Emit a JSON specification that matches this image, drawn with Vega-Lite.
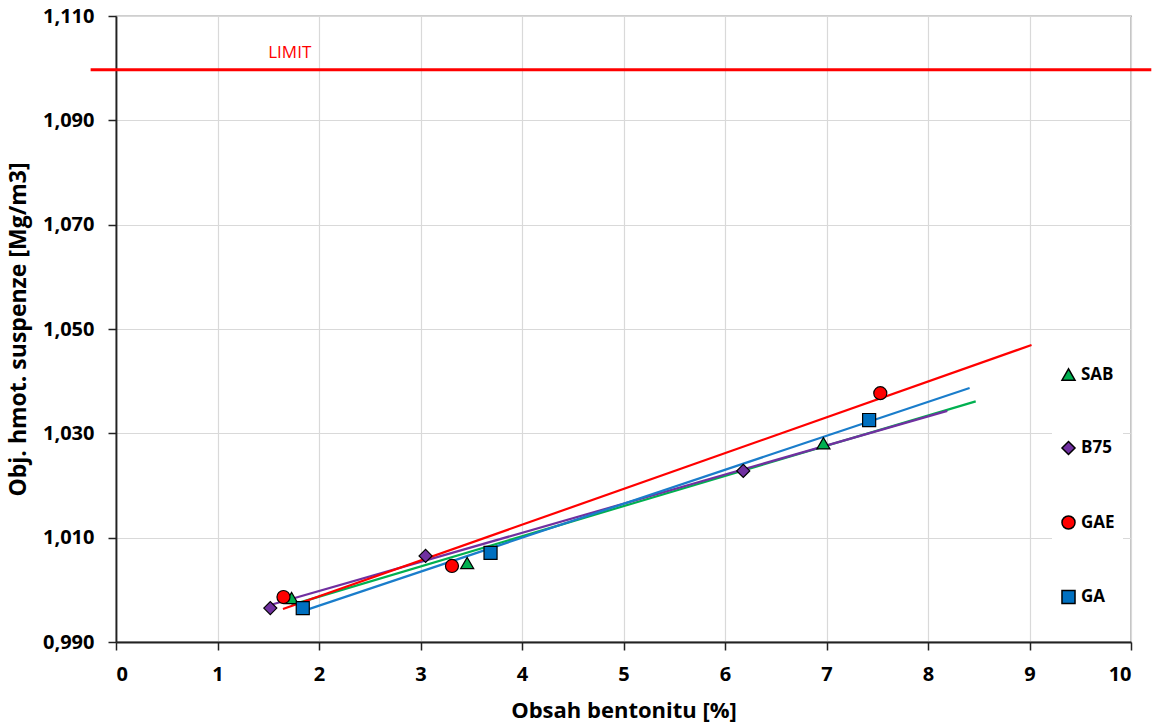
{
  "$schema": "https://vega.github.io/schema/vega-lite/v6.json",
  "width": 1015,
  "height": 626,
  "autosize": "none",
  "padding": {"left": 116, "top": 16, "right": 22, "bottom": 84},
  "background": "white",
  "config": {
    "font": "Open Sans",
    "view": {"stroke": "#404040", "strokeWidth": 1.2},
    "axis": {
      "labelFont": "Open Sans", "labelFontWeight": "bold", "labelFontSize": 20, "labelColor": "#000",
      "titleFont": "Open Sans", "titleFontWeight": "bold", "titleFontSize": 22, "titleColor": "#000",
      "domainColor": "#222", "domainWidth": 1.8, "tickColor": "#222", "tickWidth": 1.5, "tickSize": 8,
      "gridColor": "#d9d9d9", "gridWidth": 1.2
    },
    "legend": {
      "labelFont": "Open Sans", "labelFontWeight": "bold", "labelFontSize": 17, "labelColor": "#000"
    }
  },
  "datasets": {
    "points": [
      {"series": "SAB", "x": 1.73, "y": 0.99843},
      {"series": "SAB", "x": 3.46, "y": 1.00514},
      {"series": "SAB", "x": 6.97, "y": 1.0281},
      {"series": "B75", "x": 1.52, "y": 0.9965},
      {"series": "B75", "x": 3.05, "y": 1.0065},
      {"series": "B75", "x": 6.18, "y": 1.0228},
      {"series": "GAE", "x": 1.65, "y": 0.99862},
      {"series": "GAE", "x": 3.31, "y": 1.00457},
      {"series": "GAE", "x": 7.53, "y": 1.0377},
      {"series": "GA", "x": 1.84, "y": 0.9965},
      {"series": "GA", "x": 3.69, "y": 1.0071},
      {"series": "GA", "x": 7.42, "y": 1.03255}
    ],
    "trend": [
      {"series": "SAB", "x": 1.73, "y": 0.99711},
      {"series": "SAB", "x": 8.47, "y": 1.03613},
      {"series": "B75", "x": 1.52, "y": 0.99709},
      {"series": "B75", "x": 8.19, "y": 1.03431},
      {"series": "GAE", "x": 1.645, "y": 0.99631},
      {"series": "GAE", "x": 9.02, "y": 1.04693},
      {"series": "GA", "x": 1.84, "y": 0.99592},
      {"series": "GA", "x": 8.41, "y": 1.0387}
    ],
    "limit": [
      {"x": -0.25, "y": 1.0997},
      {"x": 10.2, "y": 1.0997}
    ],
    "limitLabel": [
      {"x": 1.5, "y": 1.10288, "text": "LIMIT"}
    ]
  },
  "layer": [
    {
      "data": {"name": "trend"},
      "mark": {"type": "line", "strokeWidth": 2.2},
      "encoding": {
        "x": {"field": "x", "type": "quantitative", "scale": {"domain": [0, 10], "nice": false, "zero": false},
              "axis": {"title": "Obsah bentonitu [%]", "values": [0,1,2,3,4,5,6,7,8,9,10], "labelPadding": 14, "titlePadding": 16, "format": "d"}},
        "y": {"field": "y", "type": "quantitative", "scale": {"domain": [0.99, 1.11], "nice": false, "zero": false},
              "axis": {"title": "Obj. hmot. suspenze [Mg/m3]", "values": [0.99, 1.01, 1.03, 1.05, 1.07, 1.09, 1.11],
                       "labelExpr": "replace(format(datum.value, '.3f'), '.', ',')", "labelPadding": 14, "titlePadding": 12, "titleFontSize": 23}},
        "color": {"field": "series", "type": "nominal",
                  "scale": {"domain": ["SAB", "B75", "GAE", "GA"], "range": ["#00B050", "#7030A0", "#FF0000", "#1A7DCB"]},
                  "legend": null},
        "detail": {"field": "series"}
      }
    },
    {
      "data": {"name": "limit"},
      "mark": {"type": "line", "color": "#FF0000", "strokeWidth": 3, "clip": false},
      "encoding": {
        "x": {"field": "x", "type": "quantitative"},
        "y": {"field": "y", "type": "quantitative"}
      }
    },
    {
      "data": {"name": "limitLabel"},
      "mark": {"type": "text", "color": "#FF0000", "fontSize": 17, "font": "Open Sans", "align": "left", "baseline": "middle"},
      "encoding": {
        "x": {"field": "x", "type": "quantitative"},
        "y": {"field": "y", "type": "quantitative"},
        "text": {"field": "text"}
      }
    },
    {
      "data": {"name": "points"},
      "mark": {"type": "point", "filled": true, "stroke": "#000", "strokeWidth": 1.2, "size": 170, "opacity": 1},
      "encoding": {
        "x": {"field": "x", "type": "quantitative"},
        "y": {"field": "y", "type": "quantitative"},
        "fill": {"field": "series", "type": "nominal",
                 "scale": {"domain": ["SAB", "B75", "GAE", "GA"], "range": ["#00B050", "#7030A0", "#FF0000", "#0070C0"]},
                 "legend": {"title": null, "orient": "none", "legendX": 936, "legendY": 342, "padding": 8,
                            "fillColor": "white", "rowPadding": 53.5, "symbolSize": 170, "labelOffset": 4,
                            "encode": {"symbols": {"update": {"stroke": {"value": "#000"}, "strokeWidth": {"value": 1.2}, "size": {"value": 170}}}}}},
        "shape": {"field": "series", "type": "nominal",
                  "scale": {"domain": ["SAB", "B75", "GAE", "GA"], "range": ["triangle-up", "diamond", "circle", "square"]},
                  "legend": {"title": null, "orient": "none", "legendX": 936, "legendY": 342, "padding": 8,
                             "fillColor": "white", "rowPadding": 53.5, "symbolSize": 170, "labelOffset": 4,
                             "encode": {"symbols": {"update": {"stroke": {"value": "#000"}, "strokeWidth": {"value": 1.2}, "size": {"value": 170}}}}}}
      }
    }
  ],
  "resolve": {"scale": {"color": "independent"}}
}
